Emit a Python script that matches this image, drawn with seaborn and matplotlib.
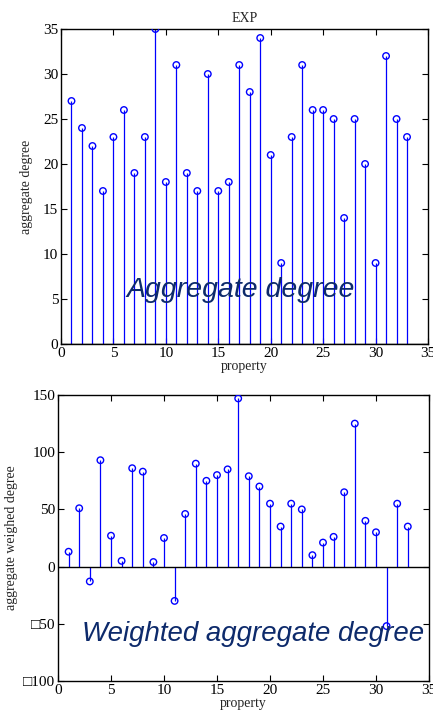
import matplotlib
matplotlib.use("Agg")
import matplotlib.pyplot as plt
import seaborn as sns
import numpy as np
import pandas as pd

# Node indices and their degree measures
nodes = list(range(1, 34))
aggregate_degree = [27, 24, 22, 17, 23, 26, 19, 23, 35, 18, 31, 19, 17, 30, 17, 18,
                    31, 28, 34, 21, 9, 23, 31, 26, 26, 25, 14, 25, 20, 9, 32, 25, 23]
weighted_degree = [13, 51, -13, 93, 27, 5, 86, 83, 4, 25, -30, 46, 90, 75, 80, 85,
                   147, 79, 70, 55, 35, 55, 50, 10, 21, 26, 65, 125, 40, 30, -52, 55, 35]

x_ticks = [0, 5, 10, 15, 20, 25, 30, 35]
top_yticks = [0, 5, 10, 15, 20, 25, 30, 35]
bottom_yticks = [-100, -50, 0, 50, 100, 150]
bottom_ylabels = ["\u25a1100", "\u25a150", "0", "50", "100", "150"]

sns.set_style("ticks")
plt.rcParams["font.family"] = ["Liberation Serif", "DejaVu Serif"]
plt.rcParams["xtick.direction"] = "in"
plt.rcParams["ytick.direction"] = "in"

STEM = "#0000ff"

fig = plt.figure(figsize=(4.33, 7.11), dpi=100)
ax1 = fig.add_axes([61 / 433, 1 - 344 / 711, (428 - 61) / 433, (344 - 29) / 711])
ax2 = fig.add_axes([58 / 433, 1 - 681 / 711, (429 - 58) / 433, (681 - 395) / 711])


def stem_plot(ax, xs, ys):
    df = pd.DataFrame({"x": xs, "y": ys})
    ax.vlines(df["x"], 0, df["y"], color=STEM, lw=0.9, zorder=2)
    sns.scatterplot(data=df, x="x", y="y", ax=ax, marker="o", s=22,
                    facecolors="none", edgecolor=STEM, linewidth=1.0, zorder=3)
    ax.axhline(0, color="black", lw=1.0, zorder=2)


for ax in (ax1, ax2):
    for sp in ax.spines.values():
        sp.set_visible(True)
        sp.set_linewidth(1.0)
        sp.set_color("black")
    ax.tick_params(top=True, right=True, length=4, width=0.8, labelsize=11,
                   pad=2, colors="black")

stem_plot(ax1, nodes, aggregate_degree)
ax1.set_xlim(0, 35)
ax1.set_ylim(0, 35)
ax1.set_xticks(x_ticks)
ax1.set_yticks(top_yticks)
ax1.set_xlabel("property", fontsize=10, labelpad=0)
ax1.set_ylabel("aggregate degree", fontsize=10, labelpad=7)
ax1.set_title("EXP", fontsize=10, pad=5)
ax1.text(6.2, 6.0, "Aggregate degree", family=["Liberation Sans", "DejaVu Sans"],
         style="italic", fontsize=20.5, color="#0d2a6b", va="center", ha="left", zorder=4)

stem_plot(ax2, nodes, weighted_degree)
ax2.set_xlim(0, 35)
ax2.set_ylim(-100, 150)
ax2.set_xticks(x_ticks)
ax2.set_yticks(bottom_yticks)
ax2.set_yticklabels(bottom_ylabels)
ax2.set_xlabel("property", fontsize=10, labelpad=0)
ax2.set_ylabel("aggregate weighed degree", fontsize=10, labelpad=4)
ax2.text(2.3, -59, "Weighted aggregate degree", family=["Liberation Sans", "DejaVu Sans"],
         style="italic", fontsize=19.9, color="#0d2a6b", va="center", ha="left", zorder=4)

fig.savefig("out.png", dpi=100)
